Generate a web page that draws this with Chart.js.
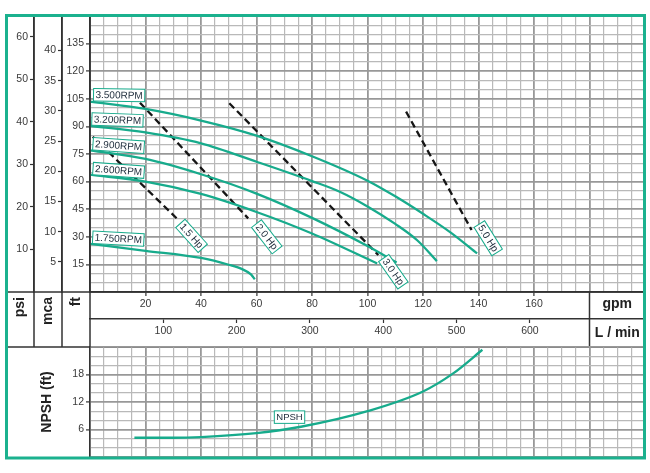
<!DOCTYPE html>
<html><head><meta charset="utf-8">
<script src="https://cdn.jsdelivr.net/npm/chart.js@4.4.1/dist/chart.umd.min.js"></script>
<style>
html,body{margin:0;padding:0;background:#fff;}
#wrap{position:relative;width:650px;height:473px;}
canvas{position:absolute;left:0;top:0;}
</style></head><body>
<div id="wrap"><canvas id="c1" width="650" height="473"></canvas><canvas id="c2" width="650" height="473"></canvas></div>
<script>
// ---- tick labels ----
const gpmTicks = [20,40,60,80,100,120,140,160];
const lminTicks = [100,200,300,400,500,600];
const ftTicks = [15,30,45,60,75,90,105,120,135];
const psiTicks = [10,20,30,40,50,60];
const mcaTicks = [5,10,15,20,25,30,35,40];
const npshTicks = [6,12,18];

// ---- pump curves (gpm -> ft) ----
const rpm3500Q = [0,20,40,60,80,100,110,120,130,139.5];
const rpm3500H = [103.5,99.5,93.2,85,73.8,60.5,52,42.5,32.3,21];
const rpm3200Q = [0,20,40,60,80,90,100,110,118,125];
const rpm3200H = [90.3,86.7,80.8,70.8,60.3,54.5,46.5,37,28,16.8];
const rpm2900Q = [0,20,40,60,80,100,110.5];
const rpm2900H = [77,72.3,64,53.5,40.3,25,16];
const rpm2600Q = [0,20,40,60,80,103.5];
const rpm2600H = [63.8,60,53.3,43.5,31.8,15.5];
const rpm1750Q = [0,20,40,50,55,58,59.4];
const rpm1750H = [26.2,22.4,18.5,14.8,12.3,9.6,6.9];

// ---- power lines (gpm -> ft) ----
const hp15Q = [1,31.2];     const hp15H = [84.4,40.1];
const hp20Q = [18,57];      const hp20H = [102.9,40];
const hp30Q = [50.2,103.9]; const hp30H = [102.6,20.1];
const hp50Q = [113.9,137.5];const hp50H = [98,33.7];

// ---- NPSH (gpm -> ft) ----
const npshQ = [16,30,40,60,76,100,120,131,141.4];
const npshH = [4.2,4.2,4.35,5.2,6.6,10,14.3,18.3,23.4];

// ---- curve labels (anchored in data units) ----
const rpmLabels = ['3.500RPM','3.200RPM','2.900RPM','2.600RPM','1.750RPM'];
const rpmLabelQ = [10.5,9.9,10.3,10.3,10.2];
const rpmLabelH = [107,93.5,79.6,66.1,29];
const rpmLabelAngle = [1,2,4,4,3];
const hpLabels = ['1.5 Hp','2.0 Hp','3.0 Hp','5.0 Hp'];
const hpLabelQ = [36.6,63.7,109.3,143.5];
const hpLabelH = [30.5,30,11,29.2];
const hpLabelAngle = [48,52,55,58];
const npshLabel = 'NPSH'; const npshLabelQ = 71.9; const npshLabelH = 8.7;

const TEAL = '#17ab8c', FRAME = '#1bb18e', DARK = '#333333';
const MINOR = '#b9b9b9', MAJOR = '#989898';
const FT_PER_PSI = 2.31, FT_PER_M = 3.281, LPM_PER_GPM = 3.785;
const Q_MAX = 200, H_MAX = 150, NPSH_MAX = 24;

Chart.defaults.font.family = "'Liberation Sans', Arial, sans-serif";
Chart.defaults.font.size = 10.5;
Chart.defaults.color = '#3a3a3a';

const pts = (q,h) => q.map((v,i)=>({x:v,y:h[i]}));
const curve = (q,h) => ({data:pts(q,h), borderColor:TEAL, borderWidth:2.3, pointRadius:0, fill:false, cubicInterpolationMode:'monotone', yAxisID:'ft'});
const hpLine = (q,h) => ({data:pts(q,h), borderColor:'#151515', borderWidth:2.3, borderDash:[7,4], pointRadius:0, fill:false, tension:0, yAxisID:'ft'});
const steps = (a,b,s) => { const r=[]; for(let v=a; v<=b+1e-9; v+=s) r.push({value:+v.toFixed(4)}); return r; };

function boxLabel(ctx, text, x, y, ang, font) {
  ctx.save(); ctx.translate(x,y); ctx.rotate(ang*Math.PI/180);
  ctx.font = font;
  const w = ctx.measureText(text).width + 4, h = 12.5;
  ctx.fillStyle = '#fff'; ctx.fillRect(-w/2,-h/2,w,h);
  ctx.strokeStyle = TEAL; ctx.lineWidth = 1; ctx.strokeRect(-w/2,-h/2,w,h);
  ctx.fillStyle = '#1d2b3a'; ctx.textAlign='center'; ctx.textBaseline='middle';
  ctx.fillText(text,0,0.5);
  ctx.restore();
}
function vtext(ctx, text, x, yTop) {
  ctx.save(); ctx.translate(x,yTop); ctx.rotate(-Math.PI/2);
  ctx.textAlign='right'; ctx.textBaseline='middle'; ctx.fillText(text,0,0); ctx.restore();
}

const isMajor = (c, step) => c.tick && Math.abs(c.tick.value % step) < 1e-6;
const gridColor = (step) => (c) => isMajor(c, step) ? MAJOR : MINOR;
const gridWidth = (step) => (c) => isMajor(c, step) ? 1.8 : 1.2;

const topPlugin = {
  id:'topDeco',
  afterDatasetsDraw(chart){
    const ctx = chart.ctx, x = chart.scales.x, y = chart.scales.ft;
    rpmLabels.forEach((t,i)=> boxLabel(ctx, t, x.getPixelForValue(rpmLabelQ[i]), y.getPixelForValue(rpmLabelH[i]), rpmLabelAngle[i], "10px 'Liberation Sans', Arial, sans-serif"));
    hpLabels.forEach((t,i)=> boxLabel(ctx, t, x.getPixelForValue(hpLabelQ[i]), y.getPixelForValue(hpLabelH[i]), hpLabelAngle[i], "10px 'Liberation Sans', Arial, sans-serif"));
  },
  afterDraw(chart){
    const ctx = chart.ctx, a = chart.chartArea, s = chart.scales;
    const x0 = s.psi.left, bandBot = s.lmin.bottom, bandMid = s.x.bottom;
    ctx.save();
    ctx.strokeStyle = DARK; ctx.lineWidth = 1.5;
    ctx.beginPath();
    ctx.moveTo(x0, a.bottom); ctx.lineTo(a.right, a.bottom);
    ctx.moveTo(x0, bandBot); ctx.lineTo(a.right, bandBot);
    [s.psi.right, s.mca.right, s.ft.right].forEach(px=>{ ctx.moveTo(px, a.top); ctx.lineTo(px, bandBot); });
    const div = s.x.getPixelForValue(180);
    ctx.moveTo(div, a.bottom); ctx.lineTo(div, bandBot);
    ctx.stroke();
    ctx.fillStyle = '#222'; ctx.font = "bold 14px 'Liberation Sans', Arial, sans-serif";
    vtext(ctx, 'psi', (s.psi.left+s.psi.right)/2, a.bottom+5);
    vtext(ctx, 'mca', (s.mca.left+s.mca.right)/2, a.bottom+5);
    vtext(ctx, 'ft', (s.ft.left+s.ft.right)/2, a.bottom+5);
    ctx.textAlign='center'; ctx.textBaseline='middle';
    ctx.fillText('gpm', (div+a.right)/2, (a.bottom+bandMid)/2 - 1);
    ctx.fillText('L / min', (div+a.right)/2, (bandMid+bandBot)/2);
    ctx.restore();
  }
};

new Chart(document.getElementById('c1'), {
  type:'line',
  data:{datasets:[
    curve(rpm3500Q,rpm3500H), curve(rpm3200Q,rpm3200H), curve(rpm2900Q,rpm2900H),
    curve(rpm2600Q,rpm2600H), curve(rpm1750Q,rpm1750H),
    hpLine(hp15Q,hp15H), hpLine(hp20Q,hp20H), hpLine(hp30Q,hp30H), hpLine(hp50Q,hp50H)
  ]},
  options:{
    responsive:false, animation:false, devicePixelRatio:1, events:[],
    layout:{padding:{left:7,right:5,top:16,bottom:126}},
    plugins:{legend:{display:false}, tooltip:{enabled:false}},
    scales:{
      x:{type:'linear', position:'bottom', weight:1, min:0, max:Q_MAX,
        afterBuildTicks:(sc)=>{ sc.ticks = steps(0,Q_MAX,5); },
        afterFit:(sc)=>{ sc.height = 27; },
        ticks:{autoSkip:false, maxRotation:0, padding:2, color:'#3a3a3a',
          callback:(v)=> gpmTicks.includes(v) ? String(v) : ''},
        grid:{drawOnChartArea:true, color:gridColor(20), lineWidth:gridWidth(20), tickLength:4, tickWidth:1.2,
          tickColor:(c)=> (c.tick && gpmTicks.includes(c.tick.value)) ? DARK : 'rgba(0,0,0,0)'},
        border:{display:true, color:DARK, width:1.5}},
      lmin:{type:'linear', position:'bottom', weight:2, min:0, max:Q_MAX*LPM_PER_GPM,
        afterBuildTicks:(sc)=>{ sc.ticks = lminTicks.map(v=>({value:v})); },
        afterFit:(sc)=>{ sc.height = 28; },
        ticks:{autoSkip:false, maxRotation:0, padding:2, color:'#3a3a3a'},
        grid:{drawOnChartArea:false, tickLength:4, tickWidth:1.2, tickColor:DARK, color:DARK},
        border:{display:true, color:DARK, width:1.5}},
      ft:{type:'linear', position:'left', weight:1, min:0, max:H_MAX,
        afterBuildTicks:(sc)=>{ sc.ticks = steps(0,H_MAX,5); },
        afterFit:(sc)=>{ sc.width = 28; },
        ticks:{autoSkip:false, padding:2, color:'#3a3a3a',
          callback:(v)=> ftTicks.includes(v) ? String(v) : ''},
        grid:{drawOnChartArea:true, color:gridColor(15), lineWidth:gridWidth(15), tickLength:4, tickWidth:1.2,
          tickColor:(c)=> (c.tick && ftTicks.includes(c.tick.value)) ? DARK : 'rgba(0,0,0,0)'},
        border:{display:true, color:DARK, width:1.5}},
      mca:{type:'linear', position:'left', weight:2, min:0, max:H_MAX/FT_PER_M,
        afterBuildTicks:(sc)=>{ sc.ticks = mcaTicks.map(v=>({value:v})); },
        afterFit:(sc)=>{ sc.width = 28; },
        ticks:{autoSkip:false, padding:2, color:'#3a3a3a'},
        grid:{drawOnChartArea:false, tickLength:4, tickWidth:1.2, tickColor:DARK, color:DARK},
        border:{display:true, color:DARK, width:1.5}},
      psi:{type:'linear', position:'left', weight:3, min:0, max:H_MAX/FT_PER_PSI,
        afterBuildTicks:(sc)=>{ sc.ticks = psiTicks.map(v=>({value:v})); },
        afterFit:(sc)=>{ sc.width = 27; },
        ticks:{autoSkip:false, padding:2, color:'#3a3a3a'},
        grid:{drawOnChartArea:false, tickLength:4, tickWidth:1.2, tickColor:DARK, color:DARK},
        border:{display:true, color:DARK, width:1.5}}
    }
  },
  plugins:[topPlugin]
});

const npshPlugin = {
  id:'npshDeco',
  afterDatasetsDraw(chart){
    const x = chart.scales.x, y = chart.scales.npsh;
    boxLabel(chart.ctx, npshLabel, x.getPixelForValue(npshLabelQ), y.getPixelForValue(npshLabelH), 0, "9.5px 'Liberation Sans', Arial, sans-serif");
  },
  afterDraw(chart){
    const ctx = chart.ctx, t = chart.scales.x;
    ctx.save(); ctx.strokeStyle = FRAME; ctx.lineWidth = 3;
    ctx.strokeRect(chart.scales.npsh.left - 0.5, 15.5, t.right - chart.scales.npsh.left, chart.chartArea.bottom + 1 - 15.5);
    ctx.restore();
  }
};

new Chart(document.getElementById('c2'), {
  type:'line',
  data:{datasets:[{data:pts(npshQ,npshH), borderColor:TEAL, borderWidth:2.3, pointRadius:0, fill:false, cubicInterpolationMode:'monotone', yAxisID:'npsh'}]},
  options:{
    responsive:false, animation:false, devicePixelRatio:1, events:[],
    layout:{padding:{left:7,right:5,top:347,bottom:16}},
    plugins:{legend:{display:false}, tooltip:{enabled:false}},
    scales:{
      x:{type:'linear', position:'bottom', min:0, max:Q_MAX,
        afterBuildTicks:(sc)=>{ sc.ticks = steps(0,Q_MAX,5); },
        afterFit:(sc)=>{ sc.height = 0; },
        ticks:{display:false, autoSkip:false},
        grid:{drawOnChartArea:true, drawTicks:false, color:gridColor(20), lineWidth:gridWidth(20)},
        border:{display:false}},
      npsh:{type:'linear', position:'left', min:0, max:NPSH_MAX,
        afterBuildTicks:(sc)=>{ sc.ticks = steps(0,NPSH_MAX,2); },
        afterFit:(sc)=>{ sc.width = 83; },
        title:{display:true, text:'NPSH (ft)', color:'#222', font:{size:14, weight:'bold'}, padding:{top:32,bottom:0}},
        ticks:{autoSkip:false, padding:2, color:'#3a3a3a',
          callback:(v)=> npshTicks.includes(v) ? String(v) : ''},
        grid:{drawOnChartArea:true, color:gridColor(6), lineWidth:gridWidth(6), tickLength:4, tickWidth:1.2,
          tickColor:(c)=> (c.tick && npshTicks.includes(c.tick.value)) ? DARK : 'rgba(0,0,0,0)'},
        border:{display:true, color:DARK, width:1.5}}
    }
  },
  plugins:[npshPlugin]
});
</script>
</body></html>
